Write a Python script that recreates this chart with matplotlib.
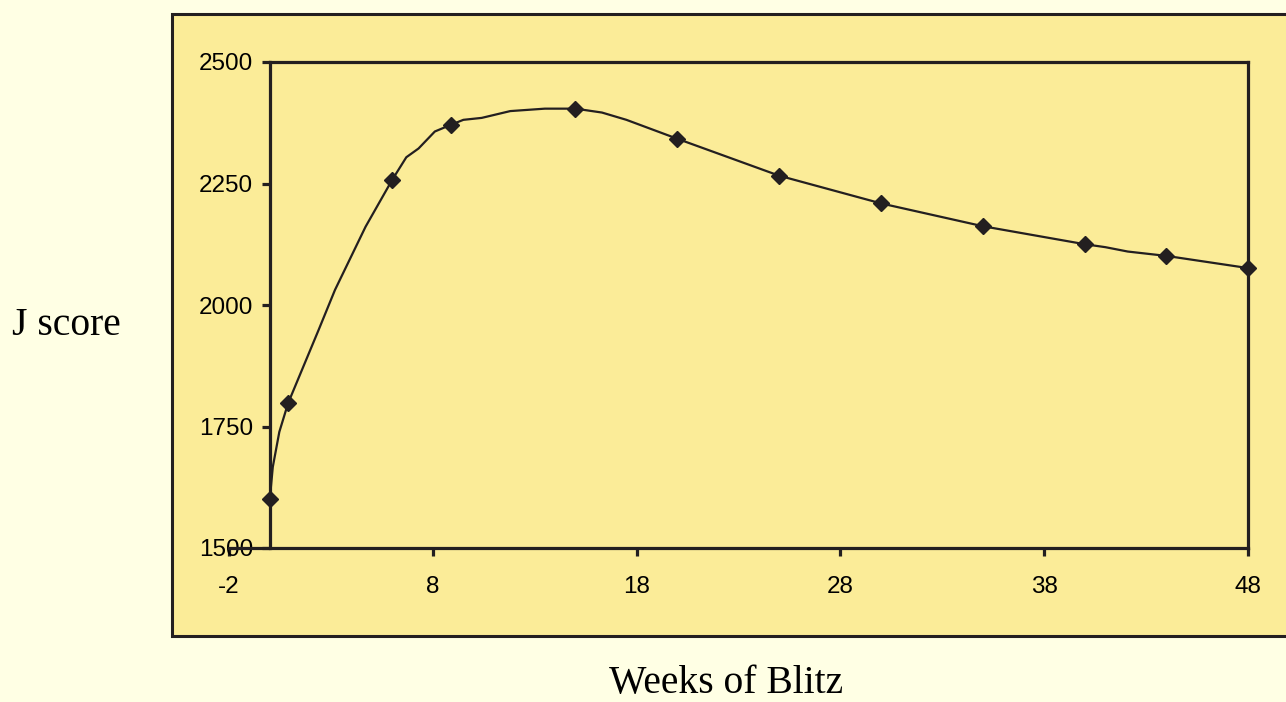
import matplotlib.pyplot as plt
from matplotlib.patches import Rectangle

plt.rcParams['axes.unicode_minus'] = False

# curve vertices (weeks, J score)
curve_weeks = [0, 0.15, 0.47, 0.9, 2.4, 3.2, 4.7, 6.0, 6.7, 7.3, 8.1, 8.9, 9.5, 10.4,
               11.8, 13.5, 15.0, 16.3, 17.5, 20, 25, 30, 35, 40, 41, 42.1, 44, 48]
curve_scores = [1600, 1667, 1739, 1798, 1949, 2031, 2161, 2257, 2304, 2322, 2357, 2371, 2381, 2385,
                2399, 2404, 2404, 2396, 2381, 2342, 2266, 2209, 2162, 2125, 2119, 2110, 2101, 2076]

# marked points
point_weeks = [0, 0.9, 6, 8.9, 15, 20, 25, 30, 35, 40, 44, 48]
point_scores = [1600, 1798, 2257, 2371, 2404, 2342, 2266, 2209, 2162, 2125, 2101, 2076]

x_ticks = [-2, 8, 18, 28, 38, 48]
y_ticks = [1500, 1750, 2000, 2250, 2500]

ink = '#231F20'
panel = '#FBEC98'
page = '#FFFFE4'

W, H = 1286, 702
fig = plt.figure(figsize=(W / 100, H / 100), dpi=100, facecolor=page)

# outer chart box, behind the axes
box = Rectangle((172 / W, 1 - 636 / H), 1.2 - 172 / W, (636 - 14) / H,
                transform=fig.transFigure, facecolor=panel, edgecolor=ink,
                linewidth=2.2, zorder=-5)
fig.patches.append(box)

ax = fig.add_axes([229 / W, 1 - 548 / H, 1019 / W, 486 / H])
ax.set_zorder(1)
ax.set_facecolor(panel)
ax.set_xlim(-2, 48)
ax.set_ylim(1500, 2500)

ax.plot(curve_weeks, curve_scores, color=ink, lw=1.6, zorder=3, clip_on=False)
ax.plot(point_weeks, point_scores, ls='none', marker='D', ms=7.8,
        color=ink, zorder=4, clip_on=False)

for s in ax.spines.values():
    s.set_color(ink)
    s.set_linewidth(2.3)
ax.spines['left'].set_position(('data', 0))
ax.spines['top'].set_bounds(0, 48)

ax.set_xticks(x_ticks)
ax.set_yticks(y_ticks)
ax.tick_params(axis='both', direction='out', length=6, width=2.3, color=ink,
               labelsize=17.5, labelcolor='black')
ax.tick_params(axis='x', pad=14)
ax.tick_params(axis='y', pad=6)
for lab in ax.get_xticklabels() + ax.get_yticklabels():
    lab.set_fontfamily('Liberation Sans')

fig.text(12 / W, 1 - 325 / H, 'J score', family='Liberation Serif', fontsize=28.5,
         ha='left', va='center')
fig.text(726 / W, 1 - 684 / H, 'Weeks of Blitz', family='Liberation Serif', fontsize=28.5,
         ha='center', va='center')

fig.savefig('out.png', dpi=100, facecolor=page)
